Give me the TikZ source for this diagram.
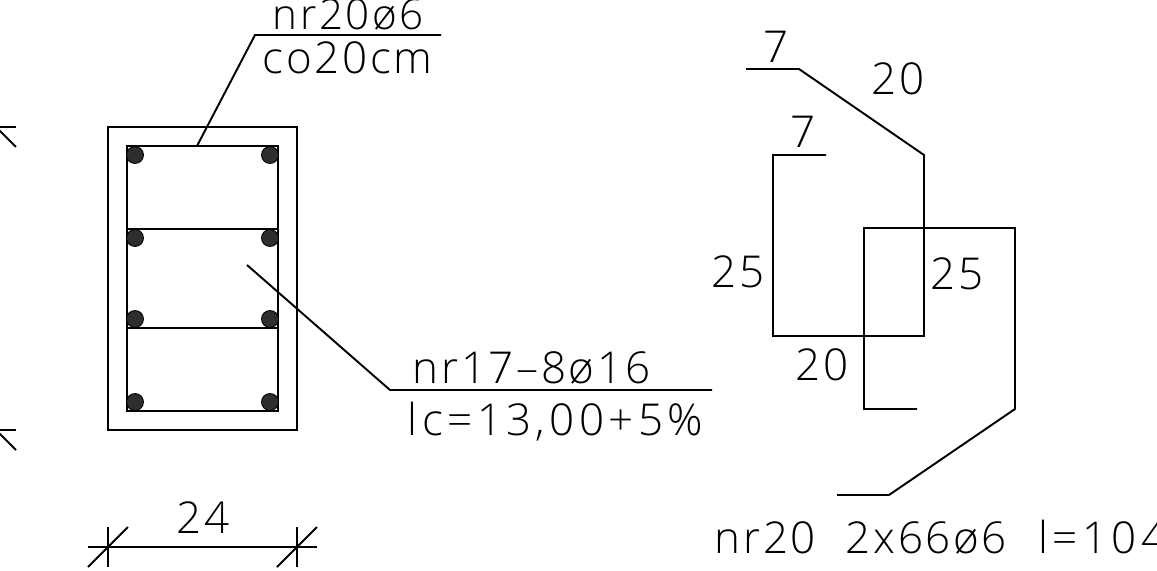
\documentclass[tikz,border=0pt]{standalone}
\usepackage{fontspec}
\newfontfamily\cadfont[LetterSpace=6]{Open Sans Light}
\newfontfamily\cadwide[LetterSpace=10]{Open Sans Light}
\usepackage{tikz}

\begin{document}
\begin{tikzpicture}[x=0.02cm,y=-0.02cm,line width=1.1pt,line join=miter]
  \tikzstyle{rebar}=[circle, draw, fill=black!82, inner sep=0pt, minimum size=0.34cm, line width=0.5pt]
  \tikzstyle{label}=[anchor=base west, inner sep=0pt, font=\cadfont\fontsize{25}{25}\selectfont]
  \useasboundingbox (0,0) rectangle (1157,571);

  % section
  \coordinate (S_1) at (108,127);
  \coordinate (S_2) at (297,127);
  \coordinate (S_3) at (297,430);
  \coordinate (S_4) at (108,430);
  \coordinate (H_1) at (127,146);
  \coordinate (H_2) at (278,146);
  \coordinate (H_3) at (278,411);
  \coordinate (H_4) at (127,411);
  \coordinate (M_1) at (127,229);
  \coordinate (M_2) at (278,229);
  \coordinate (M_3) at (127,328);
  \coordinate (M_4) at (278,328);
  \draw (S_1) -- (S_2) -- (S_3) -- (S_4) -- cycle;
  \draw (H_1) -- (H_2) -- (H_3) -- (H_4) -- cycle;
  \draw (M_1) -- (M_2);
  \draw (M_3) -- (M_4);

  \node[rebar] (R_1) at (135,155) {};
  \node[rebar] (R_2) at (270,155) {};
  \node[rebar] (R_3) at (135,238) {};
  \node[rebar] (R_4) at (270,238) {};
  \node[rebar] (R_5) at (135,319) {};
  \node[rebar] (R_6) at (270,319) {};
  \node[rebar] (R_7) at (135,402) {};
  \node[rebar] (R_8) at (270,402) {};

  % leaders
  \coordinate (A_1) at (197,146);
  \coordinate (A_2) at (255,35);
  \coordinate (A_3) at (441,35);
  \draw (A_1) -- (A_2) -- (A_3);
  \coordinate (B_1) at (247,265);
  \coordinate (B_2) at (390,390);
  \coordinate (B_3) at (712,390);
  \draw (B_1) -- (B_2) -- (B_3);
  \node[label, font=\cadfont\fontsize{24}{24}\selectfont] (T_1) at (272,29.5) {nr20ø6};
  \node[label] (T_2) at (262,74) {co20cm};
  \node[label] (T_3) at (412,383) {nr17–8ø16};
  \node[label, font=\cadwide\fontsize{25}{25}\selectfont] (T_4) at (407,435) {lc=13,00+5\%};

  % section marks
  \coordinate (C_1) at (0,127);
  \coordinate (C_2) at (16,127);
  \coordinate (C_3) at (16,147);
  \coordinate (C_4) at (0,430);
  \coordinate (C_5) at (16,430);
  \coordinate (C_6) at (16,450);
  \coordinate (C_7) at (-4,127);
  \coordinate (C_8) at (-4,430);
  \draw (C_1) -- (C_2);
  \draw (C_7) -- (C_3);
  \draw (C_4) -- (C_5);
  \draw (C_8) -- (C_6);

  % dimension
  \coordinate (D_1) at (88,547);
  \coordinate (D_2) at (317,547);
  \coordinate (D_3) at (108,527);
  \coordinate (D_4) at (108,567);
  \coordinate (D_5) at (88,567);
  \coordinate (D_6) at (128,527);
  \coordinate (D_7) at (297,527);
  \coordinate (D_8) at (297,567);
  \coordinate (D_9) at (277,567);
  \coordinate (D_10) at (317,527);
  \draw (D_1) -- (D_2);
  \draw (D_3) -- (D_4);
  \draw (D_5) -- (D_6);
  \draw (D_7) -- (D_8);
  \draw (D_9) -- (D_10);
  \node[label] (T_5) at (176,533) {24};

  % bar shape
  \coordinate (E_1) at (746,69);
  \coordinate (E_2) at (799,69);
  \coordinate (E_3) at (924,155);
  \coordinate (E_4) at (924,336);
  \coordinate (E_5) at (773,336);
  \coordinate (E_6) at (773,155);
  \coordinate (E_7) at (826,155);
  \draw (E_1) -- (E_2) -- (E_3) -- (E_4) -- (E_5) -- (E_6) -- (E_7);
  \coordinate (F_1) at (837,495);
  \coordinate (F_2) at (889,495);
  \coordinate (F_3) at (1015,409);
  \coordinate (F_4) at (1015,228);
  \coordinate (F_5) at (864,228);
  \coordinate (F_6) at (864,409);
  \coordinate (F_7) at (917,409);
  \draw (F_1) -- (F_2) -- (F_3) -- (F_4) -- (F_5) -- (F_6) -- (F_7);
  \node[label] (T_6) at (763,63) {7};
  \node[label] (T_7) at (871,95) {20};
  \node[label] (T_8) at (790,148) {7};
  \node[label] (T_9) at (711,287) {25};
  \node[label] (T_10) at (930,289) {25};
  \node[label] (T_11) at (795,380) {20};
  \node[label] (T_12) at (714,553) {nr20\hspace{17pt}2x66ø6\hspace{18pt}{\cadwide l=104}};
\end{tikzpicture}
\end{document}
